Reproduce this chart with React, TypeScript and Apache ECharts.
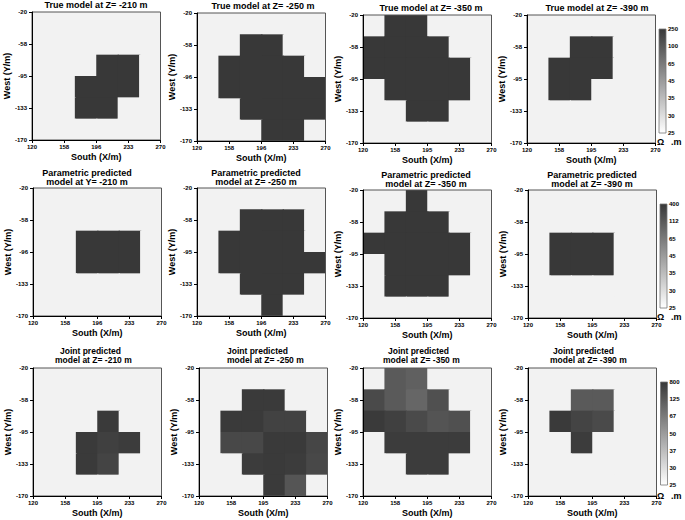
import React, { useEffect, useRef } from "react";
import * as echarts from "echarts";

// ---------- tick labels ----------
const xTicksA = ["120", "158", "196", "233", "270"];
const xTicksB = ["120", "158", "195", "233", "270"];
const yTicksA = ["-170", "-133", "-95", "-58", "-20"];
const yTicksB = ["-170", "-133", "-96", "-58", "-20"];

// colour-bar tick labels (bottom -> top), ohm.m
const cbTicksTrue = [25, 30, 35, 45, 65, 100, 250];
const cbTicksParam = [25, 30, 35, 45, 65, 112, 400];
const cbTicksJoint = [25, 30, 37, 50, 67, 125, 800];

// ---------- resistivity (ohm.m) of 25 m cells, rows top->bottom, cols left->right ----------
const trueZ210 = [
  [27, 27, 27, 27, 27, 27],
  [27, 27, 27, 27, 27, 27],
  [27, 27, 27, 250, 250, 27],
  [27, 27, 250, 250, 250, 27],
  [27, 27, 250, 250, 27, 27],
  [27, 27, 27, 27, 27, 27],
];
const trueZ250 = [
  [27, 27, 27, 27, 27, 27],
  [27, 27, 250, 250, 27, 27],
  [27, 250, 250, 250, 250, 27],
  [27, 250, 250, 250, 250, 250],
  [27, 27, 250, 250, 250, 250],
  [27, 27, 27, 250, 250, 27],
];
const trueZ350 = [
  [27, 250, 250, 27, 27, 27],
  [250, 250, 250, 250, 27, 27],
  [250, 250, 250, 250, 250, 27],
  [27, 250, 250, 250, 250, 27],
  [27, 27, 250, 250, 27, 27],
  [27, 27, 27, 27, 27, 27],
];
const trueZ390 = [
  [27, 27, 27, 27, 27, 27],
  [27, 27, 250, 250, 27, 27],
  [27, 250, 250, 250, 27, 27],
  [27, 250, 250, 27, 27, 27],
  [27, 27, 27, 27, 27, 27],
  [27, 27, 27, 27, 27, 27],
];
const paramY210 = [
  [27, 27, 27, 27, 27, 27],
  [27, 27, 27, 27, 27, 27],
  [27, 27, 400, 400, 400, 27],
  [27, 27, 400, 400, 400, 27],
  [27, 27, 27, 27, 27, 27],
  [27, 27, 27, 27, 27, 27],
];
const paramZ250 = [
  [27, 27, 27, 27, 27, 27],
  [27, 27, 400, 400, 400, 27],
  [27, 400, 400, 400, 400, 27],
  [27, 400, 400, 400, 400, 400],
  [27, 27, 400, 400, 400, 27],
  [27, 27, 27, 400, 27, 27],
];
const paramZ350 = [
  [27, 27, 400, 27, 27, 27],
  [27, 400, 400, 400, 27, 27],
  [400, 400, 400, 400, 400, 27],
  [27, 400, 400, 400, 400, 27],
  [27, 400, 400, 400, 27, 27],
  [27, 27, 27, 27, 27, 27],
];
const paramZ390 = [
  [27, 27, 27, 27, 27, 27],
  [27, 27, 27, 27, 27, 27],
  [27, 400, 400, 400, 27, 27],
  [27, 400, 400, 400, 27, 27],
  [27, 27, 27, 27, 27, 27],
  [27, 27, 27, 27, 27, 27],
];
const jointZ210 = [
  [27, 27, 27, 27, 27, 27],
  [27, 27, 27, 27, 27, 27],
  [27, 27, 27, 760, 27, 27],
  [27, 27, 760, 640, 720, 27],
  [27, 27, 760, 560, 27, 27],
  [27, 27, 27, 27, 27, 27],
];
const jointZ250 = [
  [27, 27, 27, 27, 27, 27],
  [27, 27, 760, 760, 27, 27],
  [27, 760, 760, 600, 600, 27],
  [27, 470, 470, 760, 760, 520],
  [27, 27, 720, 760, 720, 480],
  [27, 27, 27, 760, 200, 27],
];
const jointZ350 = [
  [27, 123, 113, 27, 27, 27],
  [435, 123, 102, 315, 27, 27],
  [760, 640, 435, 235, 315, 27],
  [27, 720, 720, 720, 720, 27],
  [27, 27, 720, 720, 27, 27],
  [27, 27, 27, 27, 27, 27],
];
const jointZ390 = [
  [27, 27, 27, 27, 27, 27],
  [27, 27, 123, 123, 27, 27],
  [27, 760, 560, 435, 27, 27],
  [27, 27, 720, 27, 27, 27],
  [27, 27, 27, 27, 27, 27],
  [27, 27, 27, 27, 27, 27],
];

const FONT = "'Liberation Sans', Arial, sans-serif";
const DARK = 56;

function colorOf(v: number, ticks: number[]): string {
  let pos = 0;
  if (v <= ticks[0]) pos = 0;
  else if (v >= ticks[ticks.length - 1]) pos = ticks.length - 1;
  else {
    for (let i = 0; i < ticks.length - 1; i++) {
      if (v <= ticks[i + 1]) {
        pos = i + (v - ticks[i]) / (ticks[i + 1] - ticks[i]);
        break;
      }
    }
  }
  const t = pos / (ticks.length - 1);
  const g = Math.round(255 + (DARK - 255) * t);
  return `rgb(${g},${g},${g})`;
}

type Panel = {
  m: number[][];
  x: number;
  y: number;
  xt: string[];
  yt: string[];
  cb: number[];
  title: string[];
  tx: number[];
  align: "center" | "left";
};

const PW = 128.5;
const PH = 128;

const panels: Panel[] = [
  { m: trueZ210, x: 32, y: 12, xt: xTicksA, yt: yTicksA, cb: cbTicksTrue, title: ["True model at Z= -210 m"], tx: [96], align: "center" },
  { m: trueZ250, x: 197, y: 13, xt: xTicksA, yt: yTicksB, cb: cbTicksTrue, title: ["True model at Z= -250 m"], tx: [263], align: "center" },
  { m: trueZ350, x: 363, y: 15, xt: xTicksB, yt: yTicksA, cb: cbTicksTrue, title: ["True model at Z= -350 m"], tx: [431], align: "center" },
  { m: trueZ390, x: 527, y: 15, xt: xTicksB, yt: yTicksA, cb: cbTicksTrue, title: ["True model at Z= -390 m"], tx: [597], align: "center" },
  { m: paramY210, x: 33, y: 188, xt: xTicksA, yt: yTicksB, cb: cbTicksParam, title: ["Parametric predicted", "model at Y= -210 m"], tx: [87, 87], align: "center" },
  { m: paramZ250, x: 197, y: 188, xt: xTicksA, yt: yTicksA, cb: cbTicksParam, title: ["Parametric predicted", "model at Z= -250 m"], tx: [256, 256], align: "center" },
  { m: paramZ350, x: 363, y: 190, xt: xTicksB, yt: yTicksA, cb: cbTicksParam, title: ["Parametric predicted", "model at Z= -350 m"], tx: [426, 426], align: "center" },
  { m: paramZ390, x: 528, y: 190, xt: xTicksB, yt: yTicksA, cb: cbTicksParam, title: ["Parametric predicted", "model at Z= -390 m"], tx: [592, 592], align: "center" },
  { m: jointZ210, x: 33, y: 368, xt: xTicksB, yt: yTicksA, cb: cbTicksJoint, title: ["Joint predicted", "model at Z= -210 m"], tx: [60, 55], align: "left" },
  { m: jointZ250, x: 199, y: 368, xt: xTicksB, yt: yTicksA, cb: cbTicksJoint, title: ["Joint predicted", "model at Z= -250 m"], tx: [227, 227], align: "left" },
  { m: jointZ350, x: 363, y: 368, xt: xTicksB, yt: yTicksA, cb: cbTicksJoint, title: ["Joint predicted", "model at Z= -350 m"], tx: [388, 383], align: "left" },
  { m: jointZ390, x: 528, y: 368, xt: xTicksB, yt: yTicksA, cb: cbTicksJoint, title: ["Joint predicted", "model at Z= -390 m"], tx: [553, 550], align: "left" },
];

const colorBars = [
  { ticks: cbTicksTrue, x: 659, y: 29, h: 104, unitY: 142 },
  { ticks: cbTicksParam, x: 660, y: 204, h: 104, unitY: 317 },
  { ticks: cbTicksJoint, x: 660.5, y: 382, h: 103, unitY: 496 },
];

function buildOption() {
  const grid: any[] = [];
  const xAxis: any[] = [];
  const yAxis: any[] = [];
  const series: any[] = [];
  const graphic: any[] = [];

  const labelStyle = { fontSize: 6, fontWeight: "bold", color: "#000", fontFamily: FONT };
  const nameStyle = { fontSize: 9, fontWeight: "bold", color: "#000", fontFamily: FONT };

  panels.forEach((p, i) => {
    grid.push({
      left: p.x, top: p.y, width: PW, height: PH,
      show: true, borderColor: "#555", borderWidth: 1, backgroundColor: "transparent", z: 5,
    });
    xAxis.push({
      type: "value", gridIndex: i, min: 0, max: 6, interval: 1.5, z: 10,
      name: "South (X/m)", nameLocation: "middle", nameGap: 12, nameTextStyle: nameStyle,
      axisLine: { show: true, lineStyle: { color: "#000", width: 1 } },
      axisTick: { show: true, length: 3, lineStyle: { color: "#000" } },
      splitLine: { show: false },
      axisLabel: { ...labelStyle, margin: 4, showMinLabel: true, showMaxLabel: true,
        formatter: (v: number) => p.xt[Math.round(v / 1.5)] ?? "" },
    });
    yAxis.push({
      type: "value", gridIndex: i, min: 0, max: 6, interval: 1.5, z: 10,
      name: "West (Y/m)", nameLocation: "middle", nameGap: 19, nameTextStyle: nameStyle,
      axisLine: { show: true, lineStyle: { color: "#000", width: 1 } },
      axisTick: { show: true, length: 3, lineStyle: { color: "#000" } },
      splitLine: { show: false },
      axisLabel: { ...labelStyle, margin: 5, showMinLabel: true, showMaxLabel: true,
        formatter: (v: number) => p.yt[Math.round(v / 1.5)] ?? "" },
    });
    const data: number[][] = [];
    p.m.forEach((row, r) => row.forEach((v, c) => data.push([c, 5 - r, v])));
    const ticks = p.cb;
    series.push({
      type: "custom", xAxisIndex: i, yAxisIndex: i, data, clip: true,
      renderItem: (_params: any, api: any) => {
        const c = api.value(0), r = api.value(1), v = api.value(2);
        const a = api.coord([c, r + 1]);
        const b = api.coord([c + 1, r]);
        const col = colorOf(v, ticks);
        const extW = c < 5 ? 1.2 : 0;
        const extH = r > 0 ? 1.2 : 0;
        return {
          type: "rect",
          shape: { x: a[0], y: a[1], width: b[0] - a[0] + extW, height: b[1] - a[1] + extH },
          style: { fill: col },
        };
      },
    });
    // titles
    const row = Math.floor(i / 4);
    const lineYs = row === 0 ? [p.y - 7.5] : row === 1 ? [p.y - 15, p.y - 6] : [p.y - 17, p.y - 8.5];
    const fs = row === 2 ? 8.5 : 9;
    p.title.forEach((t, k) => {
      graphic.push({
        type: "text", x: p.tx[k], y: lineYs[k],
        style: { text: t, align: p.align, verticalAlign: "middle", fill: "#000",
          font: `bold ${fs}px ${FONT}` },
      });
    });
  });

  colorBars.forEach((cb, k) => {
    const gi = panels.length + k;
    grid.push({ left: cb.x, top: cb.y, width: 7, height: cb.h, show: false });
    xAxis.push({ type: "value", gridIndex: gi, min: 0, max: 1, show: false });
    yAxis.push({
      type: "value", gridIndex: gi, min: 0, max: 6, interval: 1, position: "right",
      axisLine: { show: false }, axisTick: { show: false }, splitLine: { show: false },
      axisLabel: { fontSize: 6, fontWeight: "bold", color: "#000", fontFamily: FONT, margin: 2,
        showMinLabel: true, showMaxLabel: true,
        formatter: (v: number) => String(cb.ticks[Math.round(v)] ?? "") },
    });
    series.push({
      type: "custom", xAxisIndex: gi, yAxisIndex: gi, data: [[0, 0]],
      renderItem: (_params: any, api: any) => {
        const a = api.coord([0, 6]);
        const b = api.coord([1, 0]);
        return {
          type: "rect",
          shape: { x: a[0], y: a[1], width: b[0] - a[0], height: b[1] - a[1] },
          style: {
            fill: new echarts.graphic.LinearGradient(0, 0, 0, 1, [
              { offset: 0, color: `rgb(${DARK},${DARK},${DARK})` },
              { offset: 1, color: "#ffffff" },
            ]),
            stroke: "#777", lineWidth: 0.8,
          },
        };
      },
    });
    graphic.push({
      type: "text", x: 657, y: cb.unitY,
      style: { text: "Ω", align: "left", verticalAlign: "middle", fill: "#000", font: `bold 9px ${FONT}` },
    });
    graphic.push({
      type: "text", x: 671, y: cb.unitY,
      style: { text: ".m", align: "left", verticalAlign: "middle", fill: "#000", font: `bold 9px ${FONT}` },
    });
  });

  return {
    animation: false,
    backgroundColor: "#ffffff",
    textStyle: { fontFamily: FONT },
    grid, xAxis, yAxis, series, graphic,
  };
}

export default function App() {
  const ref = useRef<HTMLDivElement>(null);
  useEffect(() => {
    if (!ref.current) return;
    const chart = echarts.init(ref.current, undefined, { renderer: "svg" });
    chart.setOption(buildOption() as any);
    return () => chart.dispose();
  }, []);
  return (
    <div
      ref={ref}
      style={{ position: "absolute", left: 0, top: 0, width: 685, height: 520 }}
    />
  );
}
